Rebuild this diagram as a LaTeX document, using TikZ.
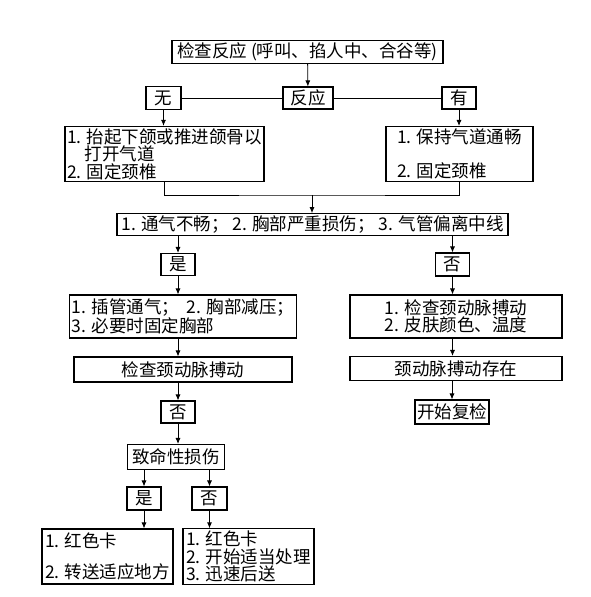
\documentclass[tikz,border=0pt]{standalone}
\usepackage{fontspec}
\setmainfont{Noto Sans CJK SC}
\usetikzlibrary{arrows.meta}
\begin{document}
\begin{tikzpicture}[x=1pt,y=-1pt,
  box/.style={draw,line width=1.1pt,inner sep=2pt,align=left,font=\fontsize{17.5pt}{17.5pt}\selectfont},
  arr/.style={-{Latex[length=6pt,width=5pt]},line width=0.8pt}]
\useasboundingbox (0,0) rectangle (591,597);
% Row 1: check and response
\node[box,minimum width=271pt,minimum height=22pt] (check) at (307.5,52) {检查反应 (呼叫、掐人中、合谷等)};
\node[box,minimum width=50pt,minimum height=22pt] (resp) at (308,98) {反应};
\node[box,minimum width=35pt,minimum height=23pt] (none) at (163.5,98) {无};
\node[box,minimum width=34pt,minimum height=22pt] (have) at (459,98) {有};
\draw[arr] (check) -- (resp);
\draw[line width=0.8pt] (none) -- (resp);
\draw[line width=0.8pt] (resp) -- (have);
% Row 2: airway
\node[box,minimum width=199pt,minimum height=55pt] (airL) at (164.5,154)
  {1. 抬起下颌或推进颌骨以\\ \hspace*{1em}打开气道\\ 2. 固定颈椎};
\node[box,minimum width=147pt,minimum height=55pt] (airR) at (459.5,154)
  {1. 保持气道通畅\\[16pt] 2. 固定颈椎};
\coordinate (join) at (312,195);
\draw[arr] (none) -- (none |- airL.north);
\draw[arr] (have) -- (have |- airR.north);
\draw[line width=0.8pt] (airL.south) |- (join) -| (airR.south);
% Row 3: critical signs
\node[box,minimum width=391pt,minimum height=21pt] (crit) at (312.5,224.5)
  {1. 通气不畅； 2. 胸部严重损伤； 3. 气管偏离中线};
\draw[arr] (join) -- (join |- crit.north);
\node[box,minimum width=34pt,minimum height=22pt] (yesA) at (178,264.5) {是};
\node[box,minimum width=34pt,minimum height=23pt] (noA) at (452.5,264.5) {否};
\draw[arr] (crit.south -| yesA) -- (yesA);
\draw[arr] (crit.south -| noA) -- (noA);
% Row 4: treatment and pulse
\node[box,minimum width=218pt,minimum height=43pt] (treatL) at (183,316.5)
  {1. 插管通气；\ \ 2. 胸部减压；\\ 3. 必要时固定胸部};
\node[box,minimum width=212pt,minimum height=43pt] (treatR) at (456,316.5)
  {1. 检查颈动脉搏动\\ 2. 皮肤颜色、温度};
\draw[arr] (yesA) -- (yesA |- treatL.north);
\draw[arr] (noA) -- (noA |- treatR.north);
\node[box,minimum width=218pt,minimum height=25pt] (pulseL) at (183,369.5) {检查颈动脉搏动};
\node[box,minimum width=212pt,minimum height=24pt] (pulseR) at (456,368.5) {颈动脉搏动存在};
\draw[arr] (treatL.south -| yesA) -- (yesA |- pulseL.north);
\draw[arr] (treatR.south -| noA) -- (noA |- pulseR.north);
\node[box,minimum width=74pt,minimum height=24pt] (recheck) at (452,412) {开始复检};
\node[box,minimum width=34pt,minimum height=22pt] (noB) at (178,412) {否};
\draw[arr] (pulseR.south -| recheck) -- (recheck);
\draw[arr] (pulseL.south -| noB) -- (noB);
% Row 5: fatal injury
\node[box,minimum width=97pt,minimum height=25pt] (fatal) at (176,457) {致命性损伤};
\draw[arr] (noB) -- (noB |- fatal.north);
\node[box,minimum width=34pt,minimum height=23pt] (yesC) at (144,498.5) {是};
\node[box,minimum width=35pt,minimum height=23pt] (noC) at (209.5,498.5) {否};
\draw[arr] (fatal.south -| yesC) -- (yesC);
\draw[arr] (fatal.south -| noC) -- (noC);
\node[box,minimum width=131pt,minimum height=55pt] (cardL) at (107.5,556.5)
  {1. 红色卡\\[13pt] 2. 转送适应地方};
\node[box,minimum width=131pt,minimum height=55pt] (cardR) at (248.5,556.5)
  {1. 红色卡\\ 2. 开始适当处理\\ 3. 迅速后送};
\draw[arr] (yesC) -- (yesC |- cardL.north);
\draw[arr] (noC) -- (noC |- cardR.north);
\end{tikzpicture}
\end{document}
